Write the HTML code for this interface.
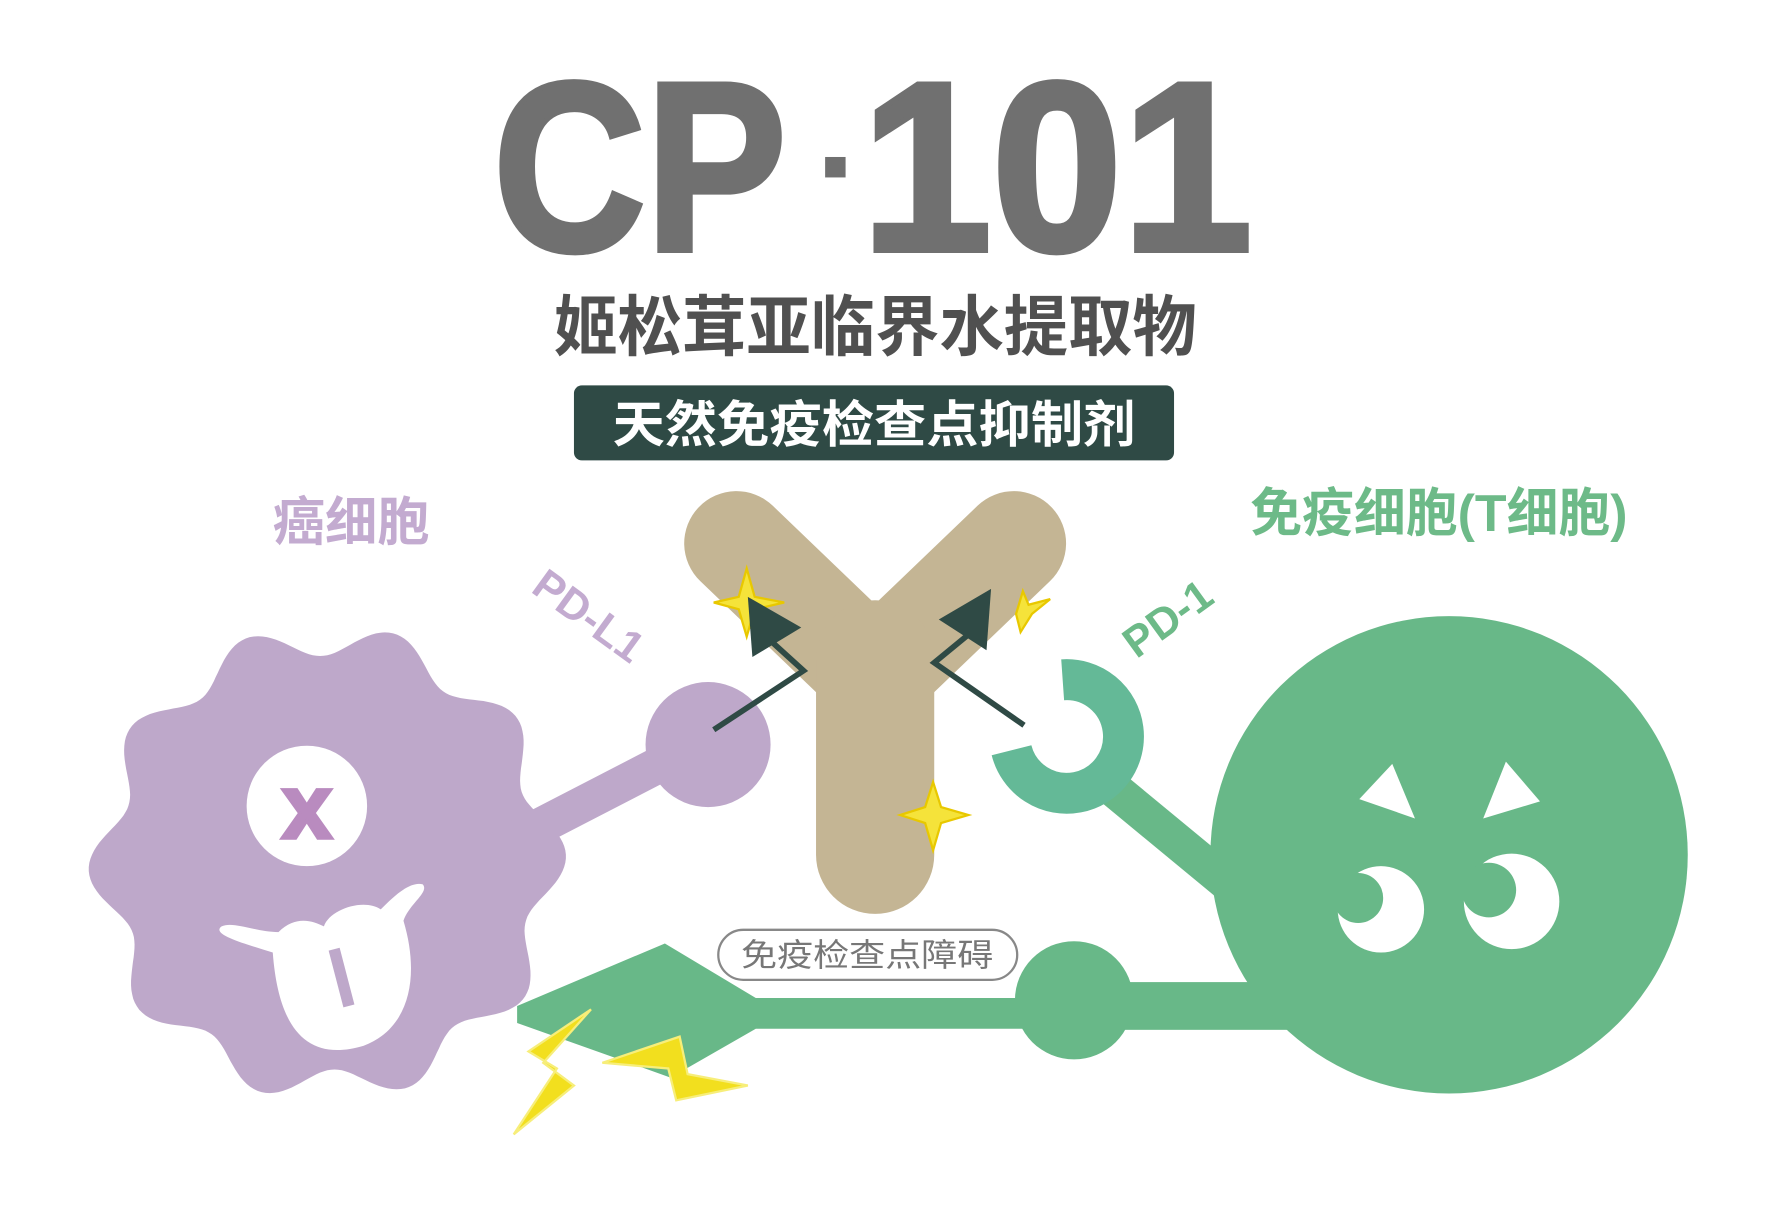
<!DOCTYPE html>
<html><head><meta charset="utf-8"><style>
html,body{margin:0;padding:0;background:#fff}
svg{display:block}
text{font-family:"Liberation Sans","Noto Sans CJK SC",sans-serif}
</style></head><body>
<svg width="1773" height="1205" viewBox="0 0 1560 1060" xmlns="http://www.w3.org/2000/svg">
<rect width="1560" height="1060" fill="#fff"/>
<g fill="#707070" font-weight="bold" stroke="#707070" stroke-width="5">
<text x="434" y="220" font-size="212" textLength="258" lengthAdjust="spacingAndGlyphs">CP</text>
<rect x="726" y="138" width="18" height="18" fill="#707070" stroke="none"/>
<text x="758" y="220" font-size="212" textLength="344" lengthAdjust="spacingAndGlyphs">101</text>
</g>
<text x="770" y="308" font-size="58" font-weight="bold" fill="#505050" text-anchor="middle" textLength="566" lengthAdjust="spacingAndGlyphs">姬松茸亚临界水提取物</text>
<rect x="505" y="339" width="528" height="66" rx="7" fill="#2f4a45"/>
<text x="769" y="389" font-size="44" font-weight="bold" fill="#fff" text-anchor="middle" textLength="460" lengthAdjust="spacingAndGlyphs">天然免疫检查点抑制剂</text>
<text x="240" y="475" font-size="46" font-weight="bold" fill="#c3abd0">癌细胞</text>
<text x="1100" y="467" font-size="46" font-weight="bold" fill="#6dba88" textLength="332" lengthAdjust="spacingAndGlyphs">免疫细胞(T细胞)</text>
<text transform="translate(466,520) rotate(36)" font-size="38" font-weight="bold" fill="#c3abd0">PD-L1</text>
<text transform="translate(1000,580) rotate(-36)" font-size="38" font-weight="bold" fill="#6dba88">PD-1</text>

<polygon points="455,885 585,830 665,878 900,878 900,905 665,905 590,948 455,900" fill="#68b888"/>
<rect x="900" y="864" width="240" height="42" fill="#68b888"/>
<circle cx="945" cy="880" r="52" fill="#68b888"/>

<path id="blob" fill="#bea8ca"/>
<line x1="440" y1="745" x2="620" y2="652" stroke="#bea8ca" stroke-width="32"/>
<circle cx="623" cy="655" r="55" fill="#bea8ca"/>
<ellipse cx="270" cy="709" rx="53" ry="53" fill="#fff"/>
<text x="270" y="737" font-size="80" font-weight="900" fill="#b98bbf" stroke="#b98bbf" stroke-width="3" text-anchor="middle">x</text>
<path fill="#fff" d="M240,838 C215,830 185,822 195,815 C205,810 225,820 245,820 C260,805 275,810 285,815 C290,800 320,790 335,800 C345,790 360,775 372,778 C378,785 360,795 355,810 C370,860 360,905 320,920 C270,935 245,905 240,838 Z"/>
<line x1="294" y1="835" x2="307" y2="885" stroke="#bea8ca" stroke-width="10"/>

<g stroke="#c4b594" stroke-linecap="round" fill="none">
<line x1="648" y1="478" x2="770" y2="595" stroke-width="92"/>
<line x1="892" y1="478" x2="770" y2="595" stroke-width="92"/>
<line x1="770" y1="580" x2="770" y2="752" stroke-width="104"/>
</g>
<g fill="#f5e33a" stroke="#e8c800" stroke-width="2">
<path d="M657,500 L664,525 L690,530 L664,536 L657,560 L650,536 L628,530 L650,525Z"/>
<path d="M821,688 L828,710 L852,717 L828,724 L821,748 L814,724 L792,717 L814,710Z"/>
<path d="M900,520 L905,532 L924,527 L908,540 L898,556 L894,540Z"/>
</g>
<g stroke="#2f4a45" stroke-width="5" fill="#2f4a45">
<polyline points="628,642 707,590 674,560" fill="none"/>
<polygon points="658,525 705,552 662,578" stroke="none"/>
<polyline points="901,638 822,583 856,555" fill="none"/>
<polygon points="872,518 826,545 868,572" stroke="none"/>
</g>

<line x1="975" y1="690" x2="1090" y2="785" stroke="#68b888" stroke-width="32"/>
<path d="M935,598 A50,50 0 1 1 890,660" fill="none" stroke="#64b997" stroke-width="36"/>
<circle cx="1275" cy="752" r="210" fill="#68b888"/>
<g fill="#fff">
<polygon points="1196,703 1225,672 1245,720"/>
<polygon points="1305,720 1325,670 1355,705"/>
<circle cx="1215" cy="800" r="38"/>
<circle cx="1330" cy="793" r="42"/>
</g>
<g fill="#68b888">
<circle cx="1195" cy="790" r="22"/>
<circle cx="1310" cy="783" r="24"/>
</g>

<g fill="#f2df1e" stroke="#f7ee7a" stroke-width="2">
<polygon points="520,888 478,935 505,955 452,998 490,940 465,925"/>
<polygon points="530,935 598,912 605,945 658,955 595,968 588,940"/>
</g>

<rect x="632" y="818" width="263" height="44" rx="22" fill="#fff" stroke="#888" stroke-width="2"/>
<text x="763" y="850" font-size="28" fill="#777" text-anchor="middle" textLength="222" lengthAdjust="spacingAndGlyphs">免疫检查点障碍</text>
</svg>
<script>
(function(){
  var cx=288,cy=759,r=196,a=14,n=10,pts=[];
  for(var i=0;i<=360;i++){
    var t=i*Math.PI/180;
    var rr=r+a*Math.cos(n*t+0.3);
    pts.push((cx+rr*Math.cos(t)).toFixed(1)+','+(cy+rr*Math.sin(t)).toFixed(1));
  }
  document.getElementById('blob').setAttribute('d','M'+pts.join(' L')+'Z');
})();
</script>
</body></html>
